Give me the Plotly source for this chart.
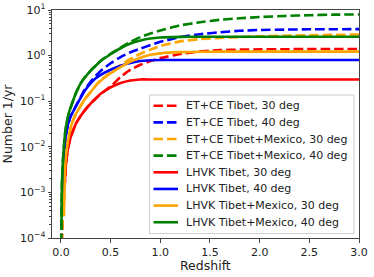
import plotly.graph_objects as go

# Redshift grid and cumulative rates
z_grid = [0.0, 0.005, 0.01, 0.02, 0.03, 0.04, 0.05, 0.07, 0.09, 0.1, 0.12, 0.15, 0.2, 0.24, 0.3,
          0.35, 0.4, 0.5, 0.6, 0.7, 0.8, 0.9, 1.0, 1.2, 1.4, 1.6, 1.8, 2.0, 2.25, 2.5, 2.75, 3.0]

# LHVK (solid)
lhvk_tibet_30 = [None, None, None, None, None, 0.0017, 0.004, 0.009, 0.014, 0.017, 0.022, 0.032, 0.048, 0.063, 0.09,
                 0.115, 0.145, 0.2, 0.25, 0.285, 0.30, 0.30, 0.30, 0.30, 0.30, 0.30, 0.30, 0.30, 0.30, 0.30, 0.30, 0.30]
lhvk_tibet_40 = [None, None, 0.0004, 0.002, 0.006, 0.012, 0.018, 0.03, 0.042, 0.048, 0.058, 0.077, 0.12, 0.17, 0.25,
                 0.32, 0.38, 0.49, 0.6, 0.69, 0.76, 0.79, 0.80, 0.80, 0.80, 0.80, 0.80, 0.80, 0.80, 0.80, 0.80, 0.80]
lhvk_tm_30 = [None, None, None, None, 0.0003, 0.003, 0.006, 0.013, 0.022, 0.027, 0.037, 0.052, 0.08, 0.11, 0.16,
              0.22, 0.28, 0.41, 0.56, 0.74, 0.9, 1.04, 1.12, 1.19, 1.21, 1.22, 1.22, 1.22, 1.22, 1.22, 1.22, 1.22]
lhvk_tm_40 = [None, 0.00015, 0.0015, 0.005, 0.01, 0.018, 0.027, 0.045, 0.065, 0.075, 0.1, 0.15, 0.25, 0.33, 0.47,
              0.6, 0.76, 1.07, 1.45, 1.85, 2.15, 2.38, 2.5, 2.58, 2.6, 2.6, 2.6, 2.6, 2.6, 2.6, 2.6, 2.6]

# ET+CE (dashed)
etce_tibet_30 = [0.00001, 0.00003, 0.0001, 0.0003, 0.0008, 0.0017, 0.004, 0.009, 0.014, 0.017, 0.022, 0.032, 0.048, 0.063, 0.09,
                 0.115, 0.145, 0.21, 0.34, 0.49, 0.63, 0.76, 0.88, 1.08, 1.24, 1.32, 1.35, 1.37, 1.38, 1.39, 1.4, 1.4]
etce_tibet_40 = [0.00001, 0.00005, 0.0004, 0.002, 0.006, 0.012, 0.018, 0.03, 0.042, 0.048, 0.058, 0.078, 0.125, 0.18, 0.27,
                 0.36, 0.46, 0.68, 0.93, 1.18, 1.42, 1.7, 2.0, 2.55, 2.95, 3.25, 3.5, 3.65, 3.72, 3.77, 3.79, 3.8]
etce_tm_30 = [0.00001, 0.00003, 0.0001, 0.0003, 0.0006, 0.003, 0.006, 0.013, 0.022, 0.027, 0.037, 0.052, 0.08, 0.11, 0.16,
              0.22, 0.29, 0.43, 0.62, 0.85, 1.1, 1.35, 1.62, 2.05, 2.3, 2.45, 2.55, 2.65, 2.72, 2.8, 2.85, 2.9]
etce_tm_40 = [0.00001, 0.00015, 0.0015, 0.005, 0.01, 0.018, 0.027, 0.045, 0.065, 0.075, 0.1, 0.15, 0.25, 0.33, 0.47,
              0.6, 0.77, 1.1, 1.5, 2.0, 2.55, 3.05, 3.55, 4.6, 5.4, 6.1, 6.6, 7.0, 7.4, 7.7, 7.9, 8.0]

series_names = ["ET+CE Tibet, 30 deg", "ET+CE Tibet, 40 deg",
                "ET+CE Tibet+Mexico, 30 deg", "ET+CE Tibet+Mexico, 40 deg",
                "LHVK Tibet, 30 deg", "LHVK Tibet, 40 deg",
                "LHVK Tibet+Mexico, 30 deg", "LHVK Tibet+Mexico, 40 deg"]
series_values = [etce_tibet_30, etce_tibet_40, etce_tm_30, etce_tm_40,
                 lhvk_tibet_30, lhvk_tibet_40, lhvk_tm_30, lhvk_tm_40]
series_colors = ["red", "blue", "orange", "green", "red", "blue", "orange", "green"]
series_dash = ["dash"] * 4 + ["solid"] * 4

x_tickvals = [0.0, 0.5, 1.0, 1.5, 2.0, 2.5, 3.0]
x_ticktext = ["0.0", "0.5", "1.0", "1.5", "2.0", "2.5", "3.0"]
y_tickvals = [1e-4, 1e-3, 1e-2, 1e-1, 1e0, 1e1]
y_ticktext = ["10<sup>−4</sup>", "10<sup>−3</sup>", "10<sup>−2</sup>",
              "10<sup>−1</sup>", "10<sup>0</sup>", "10<sup>1</sup>"]

LW = 2.6
DASH = "9.5px,4px"
font = "DejaVu Sans, Arial, sans-serif"

fig = go.Figure()
for name, vals, color, dash in zip(series_names, series_values, series_colors, series_dash):
    fig.add_trace(go.Scatter(
        x=z_grid, y=vals, mode="lines", name=name, showlegend=False,
        line=dict(color=color, width=LW, dash=DASH if dash == "dash" else "solid",
                  shape="spline", smoothing=0.4),
        connectgaps=False,
    ))

axis_common = dict(
    showline=True, linecolor="#444", linewidth=1, mirror=True,
    ticks="outside", ticklen=3.5, tickcolor="#444", tickwidth=1,
    showgrid=False, zeroline=False,
    tickfont=dict(family=font, size=11, color="#222"),
)

fig.update_xaxes(
    range=[-0.09, 3.0], tickvals=x_tickvals, ticktext=x_ticktext, ticklabeloverflow="allow",
    **axis_common,
)
fig.update_yaxes(
    type="log", range=[-4, 1], tickvals=y_tickvals, ticktext=y_ticktext,
    minor=dict(ticks="outside", ticklen=2, tickcolor="#444", showgrid=False, dtick="D1"),
    title=dict(text="Number 1/yr", font=dict(family=font, size=12.5, color="#222"), standoff=5),
    **axis_common,
)

# Manual legend (matplotlib-like compact spacing)
L, R, T, B = 52, 359, 10, 238
W, H = R - L, B - T
px = lambda x: (x - L) / W
py = lambda y: (B - y) / H
shapes = [dict(type="rect", xref="paper", yref="paper",
               x0=px(149.5), x1=px(354), y0=py(233.5), y1=py(95),
               line=dict(color="#cccccc", width=1), fillcolor="rgba(255,255,255,0.85)", layer="above")]
annotations = [dict(xref="paper", yref="paper", x=0.5, y=py(265.5), xanchor="center", yanchor="middle",
                    showarrow=False, text="Redshift", font=dict(family=font, size=12.5, color="#222"))]
row0, step = 105.7, 16.65
for i, (name, color, dash) in enumerate(zip(series_names, series_colors, series_dash)):
    yy = row0 + i * step
    shapes.append(dict(type="line", xref="paper", yref="paper",
                       x0=px(153.5), x1=px(178), y0=py(yy), y1=py(yy),
                       line=dict(color=color, width=LW, dash=DASH if dash == "dash" else "solid"),
                       layer="above"))
    annotations.append(dict(xref="paper", yref="paper", x=px(184), y=py(yy),
                            xanchor="left", yanchor="middle", showarrow=False,
                            text=name, font=dict(family=font, size=11, color="#222")))

fig.update_layout(
    width=374, height=277,
    margin=dict(l=52, r=15, t=10, b=39, autoexpand=False),
    paper_bgcolor="white", plot_bgcolor="white",
    showlegend=False,
    shapes=shapes, annotations=annotations,
)

fig.write_html("out.html", config={"displayModeBar": False, "staticPlot": True},
               post_script="document.body.style.margin='0';document.body.style.overflow='hidden';")
